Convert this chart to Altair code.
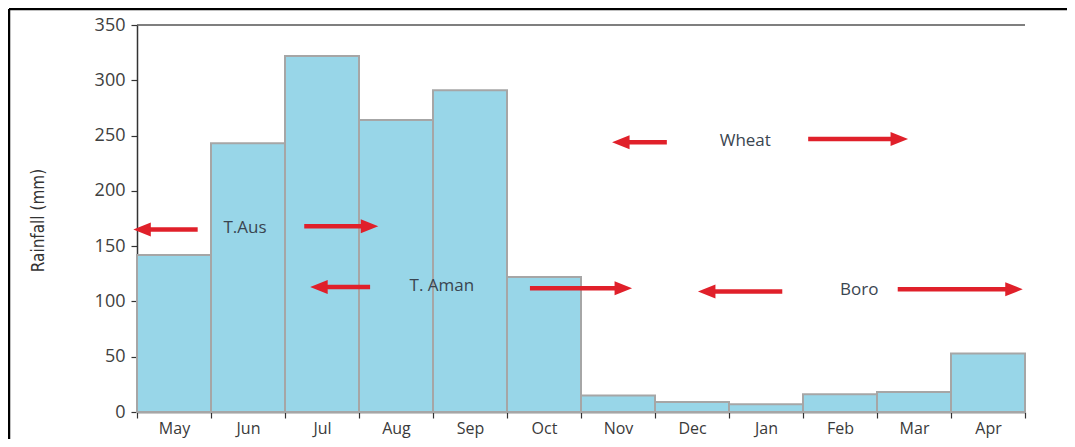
import altair as alt
import pandas as pd

# ---- data ----
months = ["May", "Jun", "Jul", "Aug", "Sep", "Oct", "Nov", "Dec", "Jan", "Feb", "Mar", "Apr"]
rainfall = [142, 243, 322, 264, 291, 122, 15, 9, 7, 16, 18, 53]

# crop-season annotations (x in month-slot units from the left edge, y in mm)
crop_labels = ["T.Aus", "T. Aman", "Wheat", "Boro"]
crop_label_x = [1.46, 4.12, 8.22, 9.76]
crop_label_y = [166, 114, 245, 110]

arrow_tail = [0.82, 2.26, 3.15, 5.31, 7.16, 9.07, 8.72, 10.28]
arrow_tip = [-0.05, 3.26, 2.34, 6.69, 6.42, 10.42, 7.58, 11.97]
arrow_y = [165, 168, 113, 112, 244, 247, 109, 111]

# ---- tables ----
bars = pd.DataFrame({
    "month": months,
    "x0": list(range(len(months))),
    "x1": [i + 1 for i in range(len(months))],
    "rain": rainfall,
})
labels = pd.DataFrame({"label": crop_labels, "x": crop_label_x, "y": crop_label_y})

PX_PER_SLOT = 74.0
arrows = pd.DataFrame({"tail": arrow_tail, "tip": arrow_tip, "y": arrow_y})
arrows["dir"] = ["R" if t > s else "L" for s, t in zip(arrows["tail"], arrows["tip"])]
arrows["shaft_end"] = [
    t - (10 / PX_PER_SLOT if d == "R" else -10 / PX_PER_SLOT)
    for t, d in zip(arrows["tip"], arrows["dir"])
]

W, H = 888, 387
RED = "#e0202a"
NARROW = "Liberation Sans Narrow, DejaVu Sans Condensed, sans-serif"
x_scale = alt.Scale(domain=[0, 12], nice=False, zero=False)
y_scale = alt.Scale(domain=[0, 350], nice=False)

month_expr = "[" + ",".join("'%s'" % m for m in months) + "][datum.value] || ''"

bar_layer = alt.Chart(bars).mark_rect(
    color="#98d6e8", stroke="#a6a6a6", strokeWidth=2
).encode(
    x=alt.X("x0:Q", scale=x_scale, title=None,
            axis=alt.Axis(values=list(range(13)), labelExpr=month_expr, labelOffset=37,
                          tickSize=6, grid=False, labelOverlap=False, labelFlush=False,
                          domainColor="#333333", domainWidth=1.5, tickColor="#333333",
                          tickWidth=1.2, labelFont="Open Sans", labelFontSize=16,
                          labelColor="#3a3a3a", labelPadding=2)),
    x2="x1:Q",
    y=alt.Y("rain:Q", scale=y_scale, title="Rainfall (mm)",
            axis=alt.Axis(values=list(range(0, 351, 50)), tickSize=6, grid=False,
                          domainColor="#333333", domainWidth=1.5, tickColor="#333333",
                          tickWidth=1.2, labelFont="Open Sans", labelFontSize=18,
                          labelColor="#404040", labelPadding=6,
                          titleFont=NARROW, titleFontSize=17, titleFontWeight="normal",
                          titleColor="#333333", titleX=-90, titleY=195, titleAngle=270)),
    y2=alt.datum(0),
)

top_line = alt.Chart(pd.DataFrame({"a": [0], "b": [12], "v": [350]})).mark_rule(
    color="#555555", strokeWidth=1.5
).encode(x=alt.X("a:Q", scale=x_scale), x2="b:Q", y=alt.Y("v:Q", scale=y_scale))

shafts = alt.Chart(arrows).mark_rule(color=RED, strokeWidth=4.5, strokeCap="butt").encode(
    x=alt.X("tail:Q", scale=x_scale), x2="shaft_end:Q", y=alt.Y("y:Q", scale=y_scale)
)
heads_r = alt.Chart(arrows).transform_filter("datum.dir == 'R'").mark_point(
    shape="M0,0 L-5,-2 L-5,2 Z", size=49, filled=True, color=RED, opacity=1, strokeWidth=0
).encode(x=alt.X("tip:Q", scale=x_scale), y=alt.Y("y:Q", scale=y_scale))
heads_l = alt.Chart(arrows).transform_filter("datum.dir == 'L'").mark_point(
    shape="M0,0 L5,-2 L5,2 Z", size=49, filled=True, color=RED, opacity=1, strokeWidth=0
).encode(x=alt.X("tip:Q", scale=x_scale), y=alt.Y("y:Q", scale=y_scale))

texts = alt.Chart(labels).mark_text(
    font="Open Sans", fontSize=17, color="#3a4550", align="center", baseline="middle"
).encode(x=alt.X("x:Q", scale=x_scale), y=alt.Y("y:Q", scale=y_scale), text="label:N")

frame_left = alt.Chart(pd.DataFrame({"k": [0]})).mark_rule(color="#000000", strokeWidth=2.5).encode(
    x=alt.value(-128), y=alt.value(-16), y2=alt.value(H + 27)
)
frame_top = alt.Chart(pd.DataFrame({"k": [0]})).mark_rule(color="#000000", strokeWidth=2.5).encode(
    x=alt.value(-128), x2=alt.value(W + 42), y=alt.value(-16)
)

chart = alt.layer(
    bar_layer, top_line, shafts, heads_r, heads_l, texts, frame_left, frame_top
).properties(
    width=W, height=H,
    autosize=alt.AutoSizeParams(type="none"),
    padding={"left": 129, "top": 17, "right": 42, "bottom": 27},
).configure_view(stroke="transparent")

chart.save("out.html", embed_options={"renderer": "svg", "actions": False})
